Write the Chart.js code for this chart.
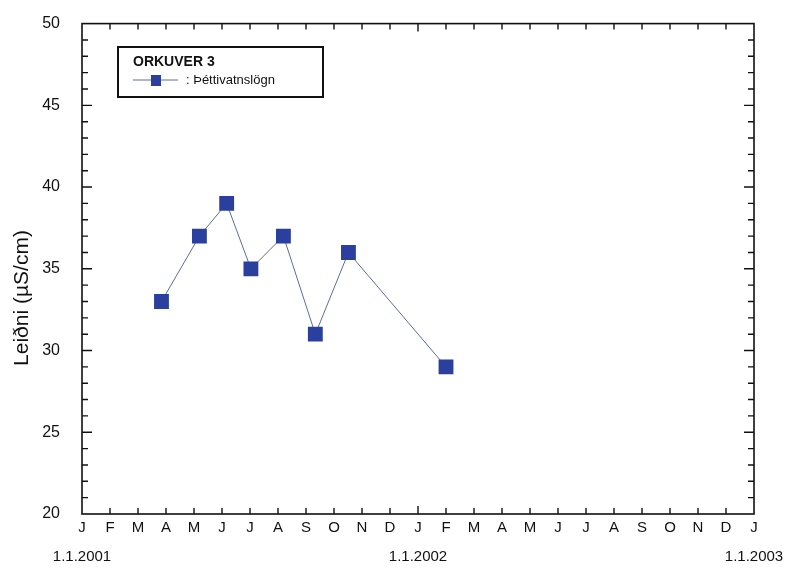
<!DOCTYPE html>
<html>
<head>
<meta charset="utf-8">
<script src="https://cdn.jsdelivr.net/npm/chart.js@4/dist/chart.umd.min.js"></script>
<style>
  html, body { margin: 0; padding: 0; background: #fff; }
  #wrap { width: 796px; height: 572px; }
</style>
</head>
<body>
<div id="wrap"><canvas id="chart" width="796" height="572"></canvas></div>
<script>
// sample dates and conductivity
const sampleDates = ['2001-03-27', '2001-05-07', '2001-06-06', '2001-07-02', '2001-08-07', '2001-09-11', '2001-10-17', '2002-02-01'];
const conductivity = [33, 37, 39, 35, 37, 31, 36, 29];
const monthLetters = ['J', 'F', 'M', 'A', 'M', 'J', 'J', 'A', 'S', 'O', 'N', 'D'];
const yearLabels = ['1.1.2001', '1.1.2002', '1.1.2003'];
const seriesLabel = ': Þéttivatnslögn';
const legendTitle = 'ORKUVER 3';
const yTitle = 'Leiðni (µS/cm)';

// months since 1.1.2001
function toMonths(s) {
    const [y, m, d] = s.split('-').map(Number);
    const days = new Date(y, m, 0).getDate();
    return (y - 2001) * 12 + (m - 1) + (d - 1) / days;
}
const points = sampleDates.map((d, i) => ({ x: toMonths(d), y: conductivity[i] }));

const FONT = 'Arial, "Liberation Sans", sans-serif';

const framePlugin = {
    id: 'frame',
    afterDraw(chart) {
        const { ctx, chartArea: a, scales } = chart;
        const xs = scales.x, ys = scales.y;
        ctx.save();
        ctx.strokeStyle = '#111';
        ctx.lineWidth = 1.6;
        ctx.strokeRect(a.left, a.top, a.right - a.left, a.bottom - a.top);
        ctx.lineWidth = 1.4;
        ctx.beginPath();
        for (let m = 1; m < 24; m++) {
            const px = xs.getPixelForValue(m);
            const len = m % 12 === 0 ? 8 : 6;
            ctx.moveTo(px, a.bottom); ctx.lineTo(px, a.bottom - len);
            ctx.moveTo(px, a.top); ctx.lineTo(px, a.top + len);
        }
        for (let v = 21; v < 50; v++) {
            const py = ys.getPixelForValue(v);
            const len = v % 5 === 0 ? 10 : 6;
            ctx.moveTo(a.left, py); ctx.lineTo(a.left + len, py);
            ctx.moveTo(a.right, py); ctx.lineTo(a.right - len, py);
        }
        ctx.stroke();

        // y title
        ctx.fillStyle = '#111';
        ctx.font = '21px ' + FONT;
        ctx.textAlign = 'center';
        ctx.textBaseline = 'middle';
        ctx.translate(22, 298);
        ctx.rotate(-Math.PI / 2);
        ctx.fillText(yTitle, 0, 0);
        ctx.restore();

        // legend box
        const ds = chart.data.datasets[0];
        ctx.save();
        ctx.fillStyle = '#fff';
        ctx.fillRect(118, 47, 205, 50);
        ctx.strokeStyle = '#111';
        ctx.lineWidth = 2;
        ctx.strokeRect(118, 47, 205, 50);
        ctx.fillStyle = '#111';
        ctx.textAlign = 'left';
        ctx.textBaseline = 'middle';
        ctx.font = 'bold 14px ' + FONT;
        ctx.fillText(legendTitle, 133, 62);
        ctx.strokeStyle = ds.borderColor;
        ctx.lineWidth = 1;
        ctx.beginPath();
        ctx.moveTo(133, 80); ctx.lineTo(178, 80);
        ctx.stroke();
        ctx.fillStyle = ds.pointBackgroundColor;
        ctx.fillRect(151, 75, 10, 11);
        ctx.fillStyle = '#111';
        ctx.font = '13px ' + FONT;
        ctx.fillText(seriesLabel, 186, 80);
        ctx.restore();
    }
};

new Chart(document.getElementById('chart').getContext('2d'), {
    type: 'scatter',
    data: {
        datasets: [{
            label: seriesLabel,
            data: points,
            showLine: true,
            borderColor: '#5d6d9c',
            borderWidth: 1,
            pointStyle: 'rect',
            pointRadius: 10.5,
            pointBackgroundColor: '#2a3f9e',
            pointBorderColor: '#2a3f9e',
            pointBorderWidth: 0
        }]
    },
    options: {
        responsive: false,
        animation: false,
        layout: { padding: { top: 17, right: 42, left: 0, bottom: 0 } },
        plugins: { legend: { display: false }, tooltip: { enabled: false } },
        scales: {
            x: {
                type: 'linear',
                min: 0,
                max: 24,
                grid: { display: false },
                border: { display: false },
                afterFit(scale) { scale.height = 58; },
                afterBuildTicks(scale) {
                    scale.ticks = [];
                    for (let m = 0; m <= 24; m++) scale.ticks.push({ value: m });
                },
                ticks: {
                    color: '#111',
                    padding: -9,
                    maxRotation: 0,
                    autoSkip: false,
                    font: { family: FONT, size: 15, lineHeight: 1.95 },
                    callback: (v) => {
                        const letter = monthLetters[v % 12];
                        return v % 12 === 0 ? [letter, yearLabels[v / 12]] : letter;
                    }
                }
            },
            y: {
                min: 20,
                max: 50,
                grid: { display: false },
                border: { display: false },
                afterFit(scale) { scale.width = 82; },
                ticks: {
                    stepSize: 5,
                    color: '#111',
                    padding: 14,
                    font: { family: FONT, size: 16 }
                }
            }
        }
    },
    plugins: [framePlugin]
});
</script>
</body>
</html>
